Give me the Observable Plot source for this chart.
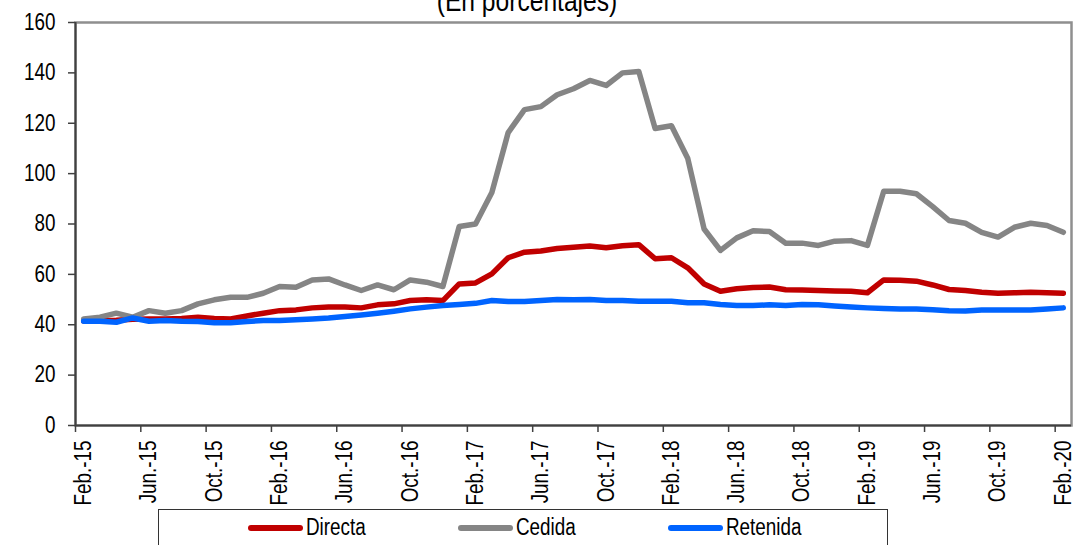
<!DOCTYPE html>
<html>
<head>
<meta charset="utf-8">
<script src="https://cdn.jsdelivr.net/npm/d3@7"></script>
<script src="https://cdn.jsdelivr.net/npm/@observablehq/plot@0.6"></script>
<style>
  body { margin: 0; background: #fff; }
  #wrap { position: relative; width: 1079px; height: 545px; overflow: hidden; background: #fff;
          font-family: "Liberation Sans", Arial, sans-serif; color: #000; }
  #title { position: absolute; top: -14px; left: 527px; transform: translateX(-50%) scaleX(0.82); transform-origin: center;
           font-size: 30px; line-height: 30px; white-space: nowrap; }
  #legend { position: absolute; left: 158px; top: 509px; width: 730px; height: 37px; box-sizing: border-box;
            border: 1.5px solid #333; background: #fff; }
  .sw { position: absolute; height: 5.5px; border-radius: 3px; }
  .lt { position: absolute; top: 0; font-size: 23px; line-height: 35px; white-space: nowrap;
        transform: scaleX(0.82); transform-origin: left center; }
  svg { position: absolute; left: 0; top: 0; }
</style>
</head>
<body>
<div id="wrap">
  <div id="title">(En porcentajes)</div>
</div>
<script>
// Categories (monthly, Feb-2015 .. Feb-2020)
const months = [
  "Feb.-15","Mar.-15","Abr.-15","May.-15","Jun.-15","Jul.-15","Ago.-15","Sep.-15","Oct.-15","Nov.-15","Dic.-15",
  "Ene.-16","Feb.-16","Mar.-16","Abr.-16","May.-16","Jun.-16","Jul.-16","Ago.-16","Sep.-16","Oct.-16","Nov.-16","Dic.-16",
  "Ene.-17","Feb.-17","Mar.-17","Abr.-17","May.-17","Jun.-17","Jul.-17","Ago.-17","Sep.-17","Oct.-17","Nov.-17","Dic.-17",
  "Ene.-18","Feb.-18","Mar.-18","Abr.-18","May.-18","Jun.-18","Jul.-18","Ago.-18","Sep.-18","Oct.-18","Nov.-18","Dic.-18",
  "Ene.-19","Feb.-19","Mar.-19","Abr.-19","May.-19","Jun.-19","Jul.-19","Ago.-19","Sep.-19","Oct.-19","Nov.-19","Dic.-19",
  "Ene.-20","Feb.-20"
];
// Tick labels shown on the axis
const tickLabels = ["Feb.-15","Jun.-15","Oct.-15","Feb.-16","Jun.-16","Oct.-16","Feb.-17","Jun.-17",
                    "Oct.-17","Feb.-18","Jun.-18","Oct.-18","Feb.-19","Jun.-19","Oct.-19","Feb.-20"];
const yTicks = [0, 20, 40, 60, 80, 100, 120, 140, 160];

// Series
const seriesNames = ["Directa", "Cedida", "Retenida"];
const seriesColors = ["#C00000", "#858585", "#0064FF"];

const directa = [
  41.5, 41.7, 41.8, 42.2, 42.3, 42.3, 42.5, 43.0, 42.5, 42.3, 43.5,
  44.6, 45.6, 45.9, 46.7, 47.0, 47.0, 46.7, 47.9, 48.3, 49.6, 49.9, 49.6,
  56.2, 56.6, 60.2, 66.6, 68.8, 69.3, 70.3, 70.8, 71.3, 70.6, 71.4, 71.8,
  66.2, 66.6, 62.6, 56.2, 53.3, 54.3, 54.8, 55.0, 53.9, 53.8, 53.6, 53.4,
  53.3, 52.7, 57.8, 57.7, 57.3, 55.8, 54.0, 53.6, 52.9, 52.5, 52.7, 52.9,
  52.7, 52.5
];
const cedida = [
  42.3, 43.0, 44.6, 43.0, 45.6, 44.6, 45.6, 48.3, 49.9, 50.9, 50.9,
  52.5, 55.2, 54.9, 57.8, 58.2, 55.8, 53.6, 55.8, 53.9, 57.8, 56.9, 55.2,
  79.0, 80.0, 92.5, 116.3, 125.4, 126.6, 131.3, 133.7, 137.0, 135.0, 140.0, 140.5,
  117.9, 119.0, 106.0, 78.0, 69.5, 74.5, 77.3, 77.0, 72.4, 72.4, 71.5, 73.2,
  73.4, 71.5, 93.0, 93.0, 92.0, 86.9, 81.4, 80.3, 76.7, 74.8, 78.7, 80.3,
  79.4, 76.7
];
const retenida = [
  41.4, 41.4, 41.0, 42.7, 41.4, 41.7, 41.4, 41.3, 40.8, 40.8, 41.3,
  41.7, 41.7, 42.0, 42.3, 42.7, 43.3, 43.9, 44.6, 45.4, 46.3, 47.0, 47.6,
  48.0, 48.5, 49.6, 49.2, 49.2, 49.6, 50.0, 49.9, 50.0, 49.6, 49.6, 49.3,
  49.3, 49.3, 48.7, 48.7, 48.0, 47.6, 47.6, 47.9, 47.6, 48.0, 47.9, 47.4,
  47.0, 46.7, 46.5, 46.3, 46.3, 46.0, 45.6, 45.5, 45.9, 45.9, 45.9, 45.9,
  46.3, 46.7
];

const seriesValues = [directa, cedida, retenida];
const rows = [];
seriesNames.forEach((s, k) => {
  seriesValues[k].forEach((v, i) => rows.push({i, month: months[i], serie: s, value: v}));
});

const labelIdx = tickLabels.map(l => months.indexOf(l));
const tickPos = labelIdx.map(i => i - 0.5);

const FONT = '"Liberation Sans", Arial, sans-serif';

const chart = Plot.plot({
  width: 1079,
  height: 545,
  marginLeft: 75,
  marginRight: 8,
  marginTop: 22,
  marginBottom: 120,
  style: {fontFamily: FONT, fontSize: "23px", color: "#000", background: "transparent", overflow: "visible"},
  x: {type: "linear", domain: [-0.5, months.length - 0.5], axis: null},
  y: {domain: [0, 160], axis: null},
  color: {domain: seriesNames, range: seriesColors},
  marks: [
    Plot.frame({stroke: "#8f8f8f", strokeWidth: 2.5}),
    Plot.axisY({ticks: yTicks, tickSize: 7, tickPadding: 13, stroke: "#404040", strokeWidth: 1.5, fill: "#000", label: null, tickFormat: d => String(d)}),
    Plot.axisX({ticks: tickPos, tickSize: 7, stroke: "#404040", strokeWidth: 1.5, label: null, tickFormat: () => ""}),
    Plot.axisX({ticks: labelIdx, tickSize: 0, tickPadding: 15, tickRotate: -90, fill: "#000", label: null, tickFormat: i => months[i]}),
    Plot.ruleY([0], {stroke: "#404040", strokeWidth: 2}),
    Plot.ruleX([-0.5], {stroke: "#404040", strokeWidth: 2}),
    Plot.lineY(rows, {x: "i", y: "value", z: "serie", stroke: "serie", strokeWidth: 5.5,
                      strokeLinecap: "round", strokeLinejoin: "round"})
  ]
});

// Condense the tick label text (the reference uses a narrow sans-serif face)
d3.select(chart).selectAll('g[aria-label="y-axis tick label"] text, g[aria-label="x-axis tick label"] text')
  .attr("transform", function() { return (this.getAttribute("transform") || "") + " scale(0.82,1)"; });

const wrap = document.getElementById("wrap");
wrap.insertBefore(chart, wrap.firstChild);

// Legend (HTML, boxed, at the bottom as in the reference)
const legend = document.createElement("div");
legend.id = "legend";
seriesNames.forEach((s, k) => {
  const sw = document.createElement("div");
  sw.className = "sw";
  sw.style.left = (89 + 210 * k) + "px";
  sw.style.top = "15px";
  sw.style.width = "55px";
  sw.style.background = seriesColors[k];
  const t = document.createElement("div");
  t.className = "lt";
  t.style.left = (147 + 210 * k) + "px";
  t.textContent = s;
  legend.appendChild(sw);
  legend.appendChild(t);
});
wrap.appendChild(legend);
</script>
</body>
</html>
